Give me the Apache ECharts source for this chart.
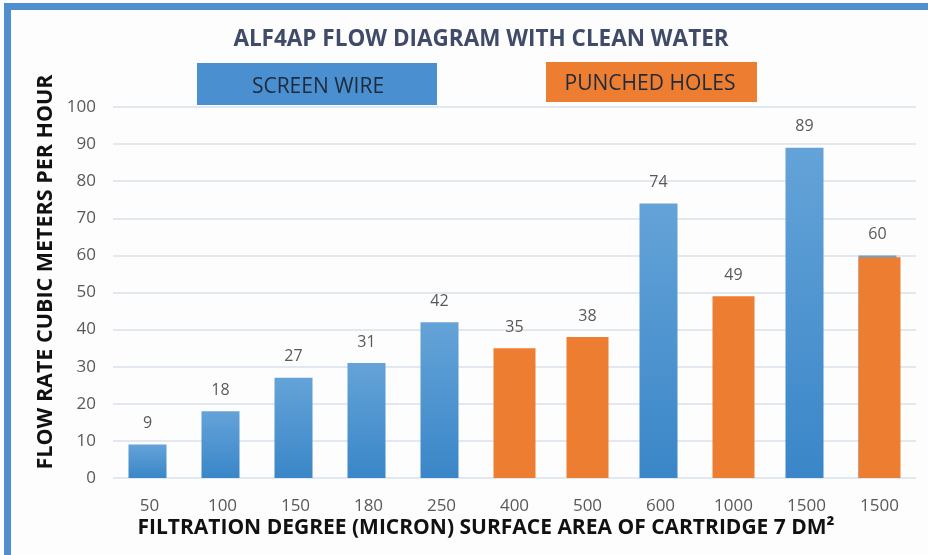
<!DOCTYPE html>
<html>
<head>
<meta charset="utf-8">
<script src="https://cdn.jsdelivr.net/npm/echarts@6/dist/echarts.min.js"></script>
<style>
  html, body { margin: 0; padding: 0; background: #fdfdfd; }
  #chart { width: 928px; height: 555px; }
</style>
</head>
<body>
<div id="chart"></div>
<script>
// filtration degree (micron)
const categories = ["50", "100", "150", "180", "250", "400", "500", "600", "1000", "1500", "1500"];
// flow rate m3/h, null where the other type is used
const screenWire = [9, 18, 27, 31, 42, null, null, 74, null, 89, 60];
const punchedHoles = [null, null, null, null, null, 35, 38, null, 49, null, 59.5];
const yTicks = { min: 0, max: 100, interval: 10 };

const blueGrad = new echarts.graphic.LinearGradient(0, 0, 0, 1, [
  { offset: 0, color: "#64a3d8" },
  { offset: 1, color: "#3a86c8" },
]);

const myChart = echarts.init(document.getElementById("chart"));
const option = {
  animation: false,
  backgroundColor: "#fdfdfd",
  textStyle: { fontFamily: "Open Sans" },
  grid: { left: 113, right: 12, top: 107, bottom: 77 },
  title: {
    text: "ALF4AP FLOW DIAGRAM WITH CLEAN WATER",
    left: 476,
    top: 23,
    textAlign: "center",
    textStyle: { fontSize: 22.5, fontWeight: "bold", color: "#3f4b68", fontFamily: "Open Sans" },
  },
  xAxis: {
    type: "category",
    data: categories,
    axisLine: { show: false },
    axisTick: { show: false },
    axisLabel: { color: "#595959", fontSize: 17, margin: 20 },
  },
  yAxis: {
    type: "value",
    min: yTicks.min,
    max: yTicks.max,
    interval: yTicks.interval,
    axisLabel: { color: "#595959", fontSize: 17, margin: 17 },
    splitLine: { lineStyle: { color: "#d9e1ea", width: 1.5 } },
  },
  series: [
    {
      name: "SCREEN WIRE",
      type: "bar",
      data: screenWire,
      barWidth: 38,
      barGap: "-100%",
      itemStyle: { color: blueGrad },
      label: { show: true, position: "top", distance: 13, color: "#595959", fontSize: 16 },
    },
    {
      name: "PUNCHED HOLES",
      type: "bar",
      data: punchedHoles,
      barWidth: 42,
      itemStyle: { color: "#ed7d31" },
      label: {
        show: true,
        position: "top",
        distance: 13,
        color: "#595959",
        fontSize: 16,
        formatter: (p) => (p.dataIndex === 10 ? "" : p.value),
      },
    },
  ],
  graphic: [
    { type: "rect", shape: { x: 4, y: 3, width: 924, height: 7 }, style: { fill: "#4f8fcf" } },
    { type: "rect", shape: { x: 4, y: 3, width: 7, height: 552 }, style: { fill: "#4f8fcf" } },
    {
      type: "text",
      x: 46,
      y: 272,
      rotation: Math.PI / 2,
      style: {
        text: "FLOW RATE CUBIC METERS PER HOUR",
        fill: "#111",
        font: "bold 21.5px Open Sans",
        align: "center",
        verticalAlign: "middle",
      },
    },
    {
      type: "text",
      x: 486,
      y: 528,
      style: {
        text: "FILTRATION DEGREE (MICRON) SURFACE AREA OF CARTRIDGE 7 DM²",
        fill: "#111",
        font: "bold 21px Open Sans",
        align: "center",
        verticalAlign: "middle",
      },
    },
    {
      type: "group",
      left: 197,
      top: 63,
      children: [
        { type: "rect", shape: { width: 240, height: 42 }, style: { fill: "#4a90d0" } },
        { type: "text", x: 121, y: 24, style: { text: "SCREEN WIRE", fill: "#1f2a3a", font: "21px Open Sans", align: "center", verticalAlign: "middle" } },
      ],
    },
    {
      type: "group",
      left: 546,
      top: 62,
      children: [
        { type: "rect", shape: { width: 211, height: 40 }, style: { fill: "#ed7d31" } },
        { type: "text", x: 104, y: 22, style: { text: "PUNCHED HOLES", fill: "#1f2a3a", font: "21px Open Sans", align: "center", verticalAlign: "middle" } },
      ],
    },
  ],
};
myChart.setOption(option);
window.addEventListener("resize", () => myChart.resize());
</script>
</body>
</html>
